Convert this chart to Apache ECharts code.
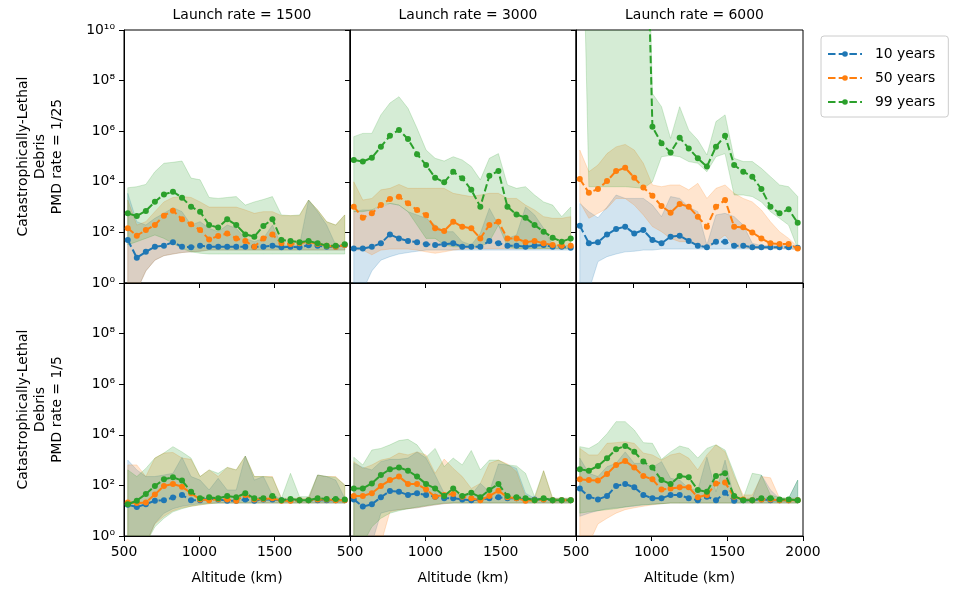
<!DOCTYPE html>
<html>
<head>
<meta charset="utf-8">
<script src="https://cdn.jsdelivr.net/npm/echarts@6.0.0/dist/echarts.min.js"></script>
<style>html,body{margin:0;padding:0;background:#fff}#c{width:953px;height:590px}</style>
</head>
<body>
<div id="c"></div>
<script>
// ---------- data ----------
const altitudes = [525,585,645,705,765,825,885,945,1005,1065,1125,1185,1245,1305,1365,1425,1485,1545,1605,1665,1725,1785,1845,1905,1965];
const launchRates = ['1500','3000','6000'];
const rowTitles = ['Catastrophically-Lethal\nDebris\nPMD rate = 1/25','Catastrophically-Lethal\nDebris\nPMD rate = 1/5'];
const seriesNames = ['10 years','50 years','99 years'];
const xTicks = [500,1000,1500,2000];
const xTicksTopRight = [500,875,1250,1625,2000];
const yTicks = [1,1e2,1e4,1e6,1e8,1e10];

// top-left: launch 1500, PMD 1/25
const tl10   = [50,10,17,27,30,41,27,26,30,27,27,27,27,27,27,27,30,26,27,26,31,30,27,27,32];
const tl10Lo = [0.5,0.5,3,8,12,14,16,17,18,20,20,20,20,20,20,20,20,20,20,20,20,20,20,20,20];
const tl10Hi = [3500,265,195,360,565,950,660,195,265,145,107,195,145,58,43,58,195,32,30,32,1900,660,195,32,32];
const tl50   = [145,74,124,196,458,724,329,208,124,53,72,91,58,46,27,58,83,37,35,37,43,35,30,27,32];
const tl50Lo = [0.5,0.5,3,8,12,14,16,17,18,20,20,20,20,20,20,20,20,20,20,20,20,20,20,20,20];
const tl50Hi = [1900,195,265,660,1600,2400,2600,2400,1600,1000,1000,1000,1000,770,565,660,660,460,460,460,1900,770,265,195,490];
const tl99   = [565,444,704,1630,3180,4070,2360,1040,660,196,155,329,196,83,68,178,329,50,46,41,46,37,30,30,34];
const tl99Lo = [32,43,58,79,58,37,23,17,15,14,14,14,14,14,14,14,14,14,14,14,14,14,14,14,14];
const tl99Hi = [5800,6400,7900,25000,54000,59000,66000,14000,12000,2400,2200,2400,2600,1200,1600,2000,2600,490,460,490,1900,770,265,195,490];

// top-middle: launch 3000, PMD 1/25
const tm10   = [23,23,27,37,83,58,46,41,34,32,34,37,27,27,27,46,37,30,30,27,30,32,27,27,25];
const tm10Lo = [0.5,0.5,3,8,11,14,16,18,20,20,20,20,20,20,20,20,20,20,20,20,20,20,20,20,20];
const tm10Hi = [660,770,770,1000,1400,1200,660,490,360,195,107,107,43,32,91,890,195,58,79,1000,490,145,32,30,30];
const tm50   = [1040,382,565,1210,2080,2580,1410,770,487,145,114,264,169,145,58,196,264,58,58,41,46,37,32,30,30];
const tm50Lo = [20,20,13,20,22,22,22,20,17,15,17,20,22,23,23,23,23,23,23,23,23,23,23,23,23];
const tm50Hi = [10000,1900,2200,4800,5500,7900,5500,5500,5500,5500,5500,3500,3000,2600,3000,3500,3500,2200,2200,1200,770,420,360,360,420];
const tm99   = [72000,63000,90000,245000,661000,1120000,490000,123000,46000,14500,9500,25000,13800,4800,1040,17400,26700,1040,513,382,196,107,62,43,58];
const tm99Lo = [660,660,770,1200,1400,1200,660,195,58,58,32,27,27,27,27,43,195,27,23,23,23,23,23,23,23];
const tm99Hi = [610000,820000,820000,4400000,13000000,23000000,8000000,1300000,180000,85000,66000,98000,73000,40000,12000,85000,130000,7500,5500,6400,3000,1600,1200,420,1000];

// top-right: launch 6000, PMD 1/25
const tr10   = [185,37,41,83,135,169,91,124,50,37,68,74,46,30,26,43,43,30,30,26,26,26,26,26,25];
const tr10Lo = [0.5,0.5,7,11,14,17,18,20,20,22,22,22,22,22,22,22,22,22,22,22,22,22,22,22,22];
const tr10Hi = [1400,660,380,1000,3000,2200,2200,2200,1200,420,2600,2200,1000,660,32,490,565,420,195,37,30,30,30,30,30];
const tr50   = [12900,3700,5200,10700,26700,36000,14500,6000,2800,1100,603,1320,1040,417,169,1040,1900,169,158,100,58,37,35,35,23];
const tr50Lo = [1600,360,565,890,2200,2200,1200,490,170,107,58,43,43,32,23,43,79,27,25,23,23,23,23,23,20];
const tr50Hi = [180000,25000,46000,130000,240000,300000,180000,54000,7500,6400,7500,7500,4800,8700,2200,5500,7500,3500,2200,1600,770,265,107,58,27];
const tr99   = [1e20,1e20,1e20,1e20,1e20,1e20,1e20,1e20,1500000,331000,145000,550000,209000,85000,40000,245000,661000,46000,25000,15800,5200,1040,565,813,240];
const tr99Lo = [1e20,6400,6400,6400,6400,6400,6000,5500,10000,98000,110000,98000,63000,54000,25000,98000,130000,3000,3000,2600,1600,660,360,195,23];
const tr99Hi = [1e22,1e22,1e22,1e22,1e22,1e22,1e22,1e22,31000000,9300000,520000,9300000,1100000,450000,115000,2400000,4400000,85000,63000,63000,34000,16000,7500,6400,2600];

// bottom-left: launch 1500, PMD 1/5
const bl10   = [17,14,18,25,26,33,42,26,26,30,28,25,25,28,25,28,28,26,26,26,26,26,26,26,26];
const bl10Lo = [0.5,0.5,0.5,3.2,7.9,12,15,17,19,20,20,20,20,20,20,20,20,20,20,20,20,20,20,20,20];
const bl10Hi = [1000,410,224,224,257,300,1300,224,162,66,190,66,66,1450,162,224,42,28,28,28,28,257,224,162,31];
const bl50   = [21,20,21,44,95,114,89,49,28,26,29,28,25,42,28,29,31,25,25,26,26,28,28,26,26];
const bl50Lo = [0.5,0.5,0.5,3,6,10,13,15,17,19,20,20,20,20,20,20,20,20,20,20,20,20,20,20,20];
const bl50Hi = [645,645,224,1200,1900,2000,1200,1070,224,410,224,515,410,1450,224,224,224,31,31,31,31,257,224,224,104];
const bl99   = [18,25,46,95,174,209,155,56,31,34,31,38,34,49,31,31,38,26,29,26,26,31,29,29,28];
const bl99Lo = [0.5,0.5,0.5,2.3,5,9,12,15,17,19,20,20,20,20,20,20,20,20,20,20,20,20,20,20,20];
const bl99Hi = [410,224,470,1200,1900,3400,2100,1200,224,410,300,515,410,1450,224,224,209,31,300,36,36,257,224,209,104];

// bottom-middle: launch 3000, PMD 1/5
const bm10   = [28,14.5,18,34,60,56,42,49,42,36,31,31,28,26,28,31,34,31,31,28,28,28,26,26,26];
const bm10Lo = [0.5,0.5,0.5,8,10,11,12,13,15,17,19,20,20,20,20,20,20,20,20,20,20,20,20,20,20];
const bm10Hi = [745,515,410,870,1070,1070,1200,2100,1200,257,49,49,42,42,120,56,700,645,470,49,31,31,31,31,31];
const bm50   = [38,38,49,95,162,224,114,114,69,36,42,46,36,31,26,38,62,34,31,25,26,28,26,26,26];
const bm50Lo = [0.5,0.5,0.5,0.5,9,11,12,13,15,17,19,20,20,20,20,20,20,20,20,20,20,20,20,20,20];
const bm50Hi = [870,470,645,1000,1200,1900,1600,2100,1600,300,1100,470,224,76,120,745,1000,700,350,36,30,380,31,31,31];
const bm99   = [76,76,120,257,436,513,382,224,114,76,38,76,38,51,34,66,114,38,34,31,26,31,26,26,26];
const bm99Lo = [0.5,0.5,2.3,5,8,10,12,14,16,18,20,20,20,20,20,20,20,20,20,20,20,20,20,20,20];
const bm99Hi = [1300,645,2500,2900,4000,5900,6600,4000,1300,2900,550,1200,645,2400,410,1000,1000,645,590,300,36,380,30,30,30];

// bottom-right: launch 6000, PMD 1/5
const br10   = [76,36,28,38,95,114,84,42,31,31,42,42,31,26,36,26,51,25,26,26,28,26,26,26,26];
const br10Lo = [6,8,10,12,13,14,15,17,18,19,20,20,20,20,20,20,20,20,20,20,20,20,20,20,20];
const br10Hi = [1200,300,224,550,745,2100,745,745,515,870,190,162,76,66,1300,56,1000,31,30,31,257,66,30,31,162];
const br50   = [174,162,155,282,646,912,513,234,174,69,76,84,84,34,42,120,129,36,28,26,28,28,26,26,26];
const br50Lo = [0.5,0.5,3,5,8,11,13,15,17,19,20,20,20,20,20,20,20,20,20,20,20,20,20,20,20];
const br50Hi = [2900,1600,1600,4600,4900,5300,4600,1900,1600,1000,1600,1900,1200,410,1600,4000,2100,224,42,42,224,200,31,31,31];
const br99   = [436,382,589,1175,2690,3630,2140,871,513,162,114,234,209,66,56,234,302,38,26,26,31,31,28,28,26];
const br99Lo = [8,9,10,11,12,14,16,17,18,19,20,20,20,20,20,20,20,20,20,20,20,20,20,20,20];
const br99Hi = [3400,2900,4600,11000,33000,33000,15500,4900,4600,1070,2100,3600,2900,1200,2900,4000,2500,300,31,300,257,42,33,31,162];

// ---------- layout / style ----------
const FONT = 'DejaVu Sans';
const FS = 13.9;
const colors = ['#1f77b4','#ff7f0e','#2ca02c'];
const bandColors = ['rgba(31,119,180,0.2)','rgba(255,127,14,0.2)','rgba(44,160,44,0.2)'];
const colLeft = [124, 350, 576];
const colWidth = [226, 226, 227];
const rowTop = [30, 283];
const rowHeight = 253;

const panels = [
  {row:0,col:0,s:[[tl10,tl10Lo,tl10Hi],[tl50,tl50Lo,tl50Hi],[tl99,tl99Lo,tl99Hi]]},
  {row:0,col:1,s:[[tm10,tm10Lo,tm10Hi],[tm50,tm50Lo,tm50Hi],[tm99,tm99Lo,tm99Hi]]},
  {row:0,col:2,s:[[tr10,tr10Lo,tr10Hi],[tr50,tr50Lo,tr50Hi],[tr99,tr99Lo,tr99Hi]]},
  {row:1,col:0,s:[[bl10,bl10Lo,bl10Hi],[bl50,bl50Lo,bl50Hi],[bl99,bl99Lo,bl99Hi]]},
  {row:1,col:1,s:[[bm10,bm10Lo,bm10Hi],[bm50,bm50Lo,bm50Hi],[bm99,bm99Lo,bm99Hi]]},
  {row:1,col:2,s:[[br10,br10Lo,br10Hi],[br50,br50Lo,br50Hi],[br99,br99Lo,br99Hi]]}
];

const SUP = {'0':'\u2070','1':'\u00b9','2':'\u00b2','3':'\u00b3','4':'\u2074','5':'\u2075','6':'\u2076','7':'\u2077','8':'\u2078','9':'\u2079'};
function logLabel(v){
  const e = Math.round(Math.log10(v));
  return '10' + String(e).split('').map(d => SUP[d]).join('');
}

const grids = [], xAxes = [], yAxes = [], series = [];
panels.forEach((p, i) => {
  grids.push({left: colLeft[p.col], top: rowTop[p.row], width: colWidth[p.col], height: rowHeight,
              show: true, borderColor: '#000', borderWidth: 1, backgroundColor: 'transparent'});
  const isTR = (p.row === 0 && p.col === 2);
  const xLabelVals = p.col === 2 ? xTicks : xTicks.slice(0, 3);
  xAxes.push({
    gridIndex: i, type: 'value', min: 500, max: 2000, interval: 500,
    axisLine: {show: true, onZero: false, lineStyle: {color: '#000', width: 1}},
    axisTick: {show: true, length: 5, lineStyle: {color: '#000'}, customValues: isTR ? xTicksTopRight : xTicks},
    axisLabel: {show: p.row === 1, customValues: xLabelVals, margin: 9,
                fontSize: FS, color: '#000', fontFamily: FONT, formatter: v => String(v)},
    splitLine: {show: false},
    name: p.row === 1 ? 'Altitude (km)' : '',
    nameLocation: 'middle', nameGap: 35,
    nameTextStyle: {fontSize: FS, color: '#000', fontFamily: FONT}
  });
  const yLabelVals = p.row === 0 ? yTicks : yTicks.slice(0, 5);
  yAxes.push({
    gridIndex: i, type: 'log', logBase: 10, min: 1, max: 1e10,
    axisLine: {show: true, lineStyle: {color: '#000', width: 1}},
    axisTick: {show: true, length: 5, lineStyle: {color: '#000'}, customValues: yTicks},
    axisLabel: {show: p.col === 0, customValues: yLabelVals, margin: 9,
                fontSize: FS, color: '#000', fontFamily: FONT, formatter: logLabel},
    splitLine: {show: false}, minorTick: {show: false},
    name: p.col === 0 ? rowTitles[p.row] : '',
    nameLocation: 'middle', nameRotate: 90, nameGap: 58,
    nameTextStyle: {fontSize: FS, color: '#000', fontFamily: FONT, lineHeight: 17, align: 'center'}
  });
  p.s.forEach((trip, k) => {
    const lo = trip[1], hi = trip[2];
    series.push({
      type: 'custom', name: 'band' + i + '_' + k, xAxisIndex: i, yAxisIndex: i,
      silent: true, clip: true, z: 1, animation: false,
      data: [[altitudes[0], 1]],
      renderItem: function(params, api){
        if (params.dataIndex !== 0) return null;
        const top = altitudes.map((a, j) => api.coord([a, hi[j]]));
        const bot = altitudes.map((a, j) => api.coord([a, lo[j]])).reverse();
        return {type: 'polygon', shape: {points: top.concat(bot)},
                style: {fill: bandColors[k], stroke: bandColors[k], lineWidth: 1}};
      }
    });
  });
  p.s.forEach((trip, k) => {
    const mean = trip[0];
    series.push({
      type: 'line', name: seriesNames[k], xAxisIndex: i, yAxisIndex: i,
      data: altitudes.map((a, j) => [a, mean[j]]),
      symbol: 'circle', symbolSize: 6, showSymbol: true, showAllSymbol: true,
      clip: true, z: 3 + k, animation: false,
      lineStyle: {color: colors[k], width: 2, type: [7.5, 3.2]},
      itemStyle: {color: colors[k]}
    });
  });
});

const titles = launchRates.map((r, j) => ({
  text: 'Launch rate = ' + r,
  left: colLeft[j] + colWidth[j] / 2, top: 3, textAlign: 'center',
  textStyle: {fontSize: FS, fontWeight: 'normal', color: '#000', fontFamily: FONT}
}));

const chart = echarts.init(document.getElementById('c'), null, {renderer: 'canvas'});
chart.setOption({
  animation: false,
  backgroundColor: '#fff',
  textStyle: {fontFamily: FONT},
  title: titles,
  legend: {
    data: seriesNames, orient: 'vertical', left: 821, top: 36,
    backgroundColor: '#fff', borderColor: '#cccccc', borderWidth: 1, borderRadius: 3,
    padding: [11, 13, 8, 6], itemGap: 10, itemWidth: 34, itemHeight: 7,
    textStyle: {fontSize: FS, color: '#000', fontFamily: FONT, padding: [0, 0, 0, 8]}
  },
  grid: grids, xAxis: xAxes, yAxis: yAxes, series: series
});
</script>
</body>
</html>
